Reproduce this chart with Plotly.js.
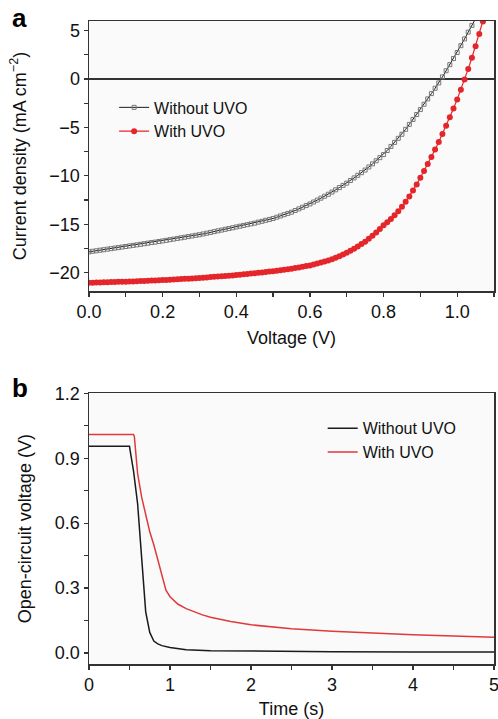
<!DOCTYPE html>
<html>
<head>
<meta charset="utf-8">
<script src="https://cdn.plot.ly/plotly-3.0.1.min.js"></script>
<style>
html,body{margin:0;padding:0;background:#fff;}
#chart{width:498px;height:719px;}
</style>
</head>
<body>
<div id="chart"></div>
<script>
// ---- Panel a: J-V curves ----
const voltageA = [
0.00,0.01,0.02,0.03,0.04,0.05,0.06,0.07,0.08,0.09,
0.10,0.11,0.12,0.13,0.14,0.15,0.16,0.17,0.18,0.19,
0.20,0.21,0.22,0.23,0.24,0.25,0.26,0.27,0.28,0.29,
0.30,0.31,0.32,0.33,0.34,0.35,0.36,0.37,0.38,0.39,
0.40,0.41,0.42,0.43,0.44,0.45,0.46,0.47,0.48,0.49,
0.50,0.51,0.52,0.53,0.54,0.55,0.56,0.57,0.58,0.59,
0.60,0.61,0.62,0.63,0.64,0.65,0.66,0.67,0.68,0.69,
0.70,0.71,0.72,0.73,0.74,0.75,0.76,0.77,0.78,0.79,
0.80,0.81,0.82,0.83,0.84,0.85,0.86,0.87,0.88,0.89,
0.90,0.91,0.92,0.93,0.94,0.95,0.96,0.97,0.98,0.99,
1.00,1.01,1.02,1.03,1.04,1.05,1.06,1.07,1.08];

const jWithoutUVO = [
-17.85,-17.79,-17.74,-17.68,-17.63,-17.57,-17.52,-17.46,-17.41,-17.35,
-17.30,-17.24,-17.18,-17.13,-17.07,-17.01,-16.95,-16.89,-16.84,-16.78,
-16.72,-16.66,-16.59,-16.53,-16.46,-16.40,-16.34,-16.27,-16.21,-16.14,
-16.08,-16.00,-15.92,-15.84,-15.76,-15.68,-15.60,-15.52,-15.44,-15.36,
-15.28,-15.20,-15.12,-15.04,-14.96,-14.88,-14.78,-14.69,-14.59,-14.50,
-14.40,-14.27,-14.14,-14.01,-13.88,-13.75,-13.58,-13.41,-13.24,-13.07,
-12.90,-12.70,-12.50,-12.30,-12.10,-11.90,-11.67,-11.44,-11.21,-10.98,
-10.75,-10.48,-10.21,-9.94,-9.67,-9.40,-9.08,-8.76,-8.44,-8.12,
-7.80,-7.38,-6.96,-6.54,-6.12,-5.70,-5.19,-4.68,-4.17,-3.66,
-3.15,-2.60,-2.05,-1.50,-0.95,-0.40,0.23,0.86,1.49,2.12,
2.75,3.45,4.15,4.85,5.55,6.25];

const jWithUVO = [
-21.04,-21.03,-21.02,-21.01,-21.00,-20.99,-20.97,-20.96,-20.95,-20.94,
-20.93,-20.91,-20.90,-20.88,-20.87,-20.85,-20.83,-20.82,-20.80,-20.79,
-20.77,-20.75,-20.73,-20.70,-20.68,-20.66,-20.64,-20.62,-20.59,-20.57,
-20.55,-20.52,-20.49,-20.46,-20.43,-20.40,-20.37,-20.34,-20.31,-20.28,
-20.25,-20.21,-20.17,-20.13,-20.09,-20.05,-20.01,-19.97,-19.93,-19.89,
-19.85,-19.80,-19.75,-19.70,-19.65,-19.60,-19.53,-19.46,-19.39,-19.32,
-19.25,-19.15,-19.05,-18.95,-18.85,-18.75,-18.61,-18.46,-18.30,-18.13,
-17.95,-17.74,-17.52,-17.29,-17.05,-16.80,-16.50,-16.18,-15.84,-15.48,
-15.10,-14.80,-14.46,-14.08,-13.66,-13.20,-12.68,-12.12,-11.52,-10.88,
-10.20,-9.50,-8.78,-8.04,-7.28,-6.50,-5.68,-4.83,-3.95,-3.04,
-2.10,-1.10,-0.05,1.05,2.20,3.40,4.65,5.95,7.30];

// ---- Panel b: open-circuit voltage decay ----
const timeWithout = [0,0.10,0.20,0.30,0.40,0.50,0.51,0.55,0.60,0.65,0.70,0.75,0.80,0.85,0.90,1.00,1.20,1.50,2.00,3.00,4.00,5.00];
const vocWithout  = [0.955,0.955,0.955,0.955,0.955,0.955,0.93,0.84,0.69,0.44,0.19,0.095,0.055,0.042,0.034,0.025,0.015,0.010,0.008,0.006,0.005,0.004];

const timeWith = [0,0.10,0.20,0.30,0.40,0.50,0.55,0.56,0.60,0.65,0.70,0.75,0.80,0.85,0.90,0.95,1.00,1.05,1.10,1.20,1.30,1.40,1.50,1.75,2.00,2.50,3.00,3.50,4.00,4.50,5.00];
const vocWith  = [1.01,1.01,1.01,1.01,1.01,1.01,1.01,1.00,0.83,0.72,0.64,0.56,0.50,0.43,0.35,0.29,0.26,0.24,0.225,0.205,0.19,0.176,0.165,0.145,0.13,0.112,0.10,0.091,0.084,0.078,0.073];

const seriesNames = ['Without UVO', 'With UVO'];

const RED = '#e4262b';
const BLACK = '#1a1a1a';
const FONT = 'Liberation Sans, Arial, Helvetica, sans-serif';

const traces = [
  {x: voltageA.slice(0, jWithoutUVO.length), y: jWithoutUVO, name: seriesNames[0], type: 'scatter', mode: 'lines+markers',
   line: {color: BLACK, width: 1}, marker: {symbol: 'square-open', size: 4, color: '#777', line: {width: 1, color: '#777'}},
   xaxis: 'x', yaxis: 'y', legend: 'legend'},
  {x: voltageA, y: jWithUVO, name: seriesNames[1], type: 'scatter', mode: 'lines+markers',
   line: {color: RED, width: 1.2}, marker: {symbol: 'circle', size: 6, color: RED},
   xaxis: 'x', yaxis: 'y', legend: 'legend'},
  {x: timeWithout, y: vocWithout, name: seriesNames[0], type: 'scatter', mode: 'lines',
   line: {color: BLACK, width: 1.5}, xaxis: 'x2', yaxis: 'y2', legend: 'legend2'},
  {x: timeWith, y: vocWith, name: seriesNames[1], type: 'scatter', mode: 'lines',
   line: {color: '#e0393c', width: 1.5}, xaxis: 'x2', yaxis: 'y2', legend: 'legend2'}
];

const TF = {family: FONT, size: 18, color: '#111'};

const axisCommon = {
  showline: true, mirror: true, linecolor: '#333', linewidth: 1.5,
  ticks: 'outside', ticklen: 4, tickwidth: 1.2, tickcolor: '#333',
  showgrid: false, zeroline: false, ticklabeloverflow: 'allow',
  tickfont: TF
};

const layout = {
  width: 498, height: 719,
  margin: {l: 89, r: 4, t: 21, b: 55},
  paper_bgcolor: '#ffffff', plot_bgcolor: '#fafafa',
  showlegend: true,
  font: {family: FONT, color: '#111'},
  xaxis: Object.assign({}, axisCommon, {
    domain: [0, 1], anchor: 'y', range: [0, 1.1], dtick: 0.2, tickformat: '.1f',
    minor: {dtick: 0.1, ticks: 'outside', ticklen: 4, tickcolor: '#333'},
    title: {text: 'Voltage (V)', standoff: 10, font: TF}
  }),
  yaxis: Object.assign({}, axisCommon, {
    domain: [0.58, 1], anchor: 'x', range: [-21.9, 6], dtick: 5,
    zeroline: true, zerolinecolor: '#333', zerolinewidth: 1.2,
    minor: {dtick: 2.5, ticks: 'outside', ticklen: 4, tickcolor: '#333'},
    title: {text: 'Current density (mA cm<sup>−2</sup>)', standoff: 18, font: TF}
  }),
  xaxis2: Object.assign({}, axisCommon, {
    domain: [0, 1], anchor: 'y2', range: [0, 5], dtick: 1,
    minor: {dtick: 0.5, ticks: 'outside', ticklen: 4, tickcolor: '#333'},
    title: {text: 'Time (s)', standoff: 11, font: TF}
  }),
  yaxis2: Object.assign({}, axisCommon, {
    domain: [0, 0.421], anchor: 'x2', range: [-0.051, 1.2], dtick: 0.3, tickformat: '.1f',
    minor: {dtick: 0.15, ticks: 'outside', ticklen: 4, tickcolor: '#333'},
    title: {text: 'Open-circuit voltage (V)', standoff: 18, font: TF}
  }),
  legend: {x: 0.062, y: 0.892, xanchor: 'left', yanchor: 'top', bgcolor: 'rgba(0,0,0,0)',
           font: {family: FONT, size: 16, color: '#111'}, itemwidth: 30},
  legend2: {x: 0.577, y: 0.393, xanchor: 'left', yanchor: 'top', bgcolor: 'rgba(0,0,0,0)',
            font: {family: FONT, size: 16, color: '#111'}, itemwidth: 30},
  annotations: [
    {text: '<b>a</b>', xref: 'paper', yref: 'paper', x: -0.195, y: 1.005, xanchor: 'left', yanchor: 'middle',
     showarrow: false, font: {family: FONT, size: 26, color: '#000'}},
    {text: '<b>b</b>', xref: 'paper', yref: 'paper', x: -0.195, y: 0.429, xanchor: 'left', yanchor: 'middle',
     showarrow: false, font: {family: FONT, size: 26, color: '#000'}}
  ]
};

Plotly.newPlot('chart', traces, layout, {staticPlot: true, displayModeBar: false});
</script>
</body>
</html>
